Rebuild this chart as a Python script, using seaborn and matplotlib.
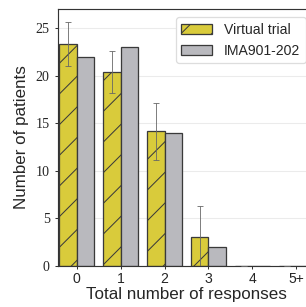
import numpy as np
import pandas as pd
import seaborn as sns
import matplotlib.pyplot as plt

categories = ["0", "1", "2", "3", "4", "5+"]
virtual_trial = [23.4, 20.4, 14.2, 3.0, 0.0, 0.0]
virtual_err = [2.3, 2.2, 3.0, 3.3, 0.0, 0.0]
ima901 = [22.0, 23.0, 14.0, 2.0, 0.0, 0.0]

df = pd.DataFrame({
    "responses": categories * 2,
    "patients": virtual_trial + ima901,
    "group": ["Virtual trial"] * len(categories) + ["IMA901-202"] * len(categories),
})

sns.set_style("whitegrid", {"grid.color": "#ebebeb", "axes.edgecolor": "#333333",
                            "xtick.bottom": True, "ytick.left": True})
plt.rcParams["font.family"] = ["Liberation Sans", "DejaVu Sans"]
plt.rcParams["hatch.linewidth"] = 0.8

dpi = 92
fig = plt.figure(figsize=(306 / dpi, 307 / dpi), dpi=dpi)
ax = fig.add_axes([58 / 306, 41 / 307, 257 / 306, 257 / 307])

palette = {"Virtual trial": "#d9cb3b", "IMA901-202": "#b9b9be"}
sns.barplot(data=df, x="responses", y="patients", hue="group", palette=palette,
            width=0.8, edgecolor="#3a3a3a", linewidth=1.0, saturation=1, ax=ax)

# hatch the virtual trial bars and put the error bars on their centres
n = len(categories)
vbars = ax.patches[:n]
for p in vbars:
    p.set_hatch("/")
xs = [p.get_x() + p.get_width() / 2 for p in vbars]
ax.errorbar(xs, virtual_trial, yerr=virtual_err, fmt="none", ecolor="#666666",
            elinewidth=0.65, capsize=2.2, capthick=0.65, zorder=5)

ax.set_xlim(-0.43, 5.43)
ax.set_ylim(0, 27.05)
ax.set_yticks([0, 5, 10, 15, 20, 25])
ax.set_xlabel("Total number of responses", fontsize=13.3, labelpad=1)
ax.set_ylabel("Number of patients", fontsize=13.3, labelpad=5)
ax.tick_params(axis="x", labelsize=11, length=2.5, pad=2, color="#333333")
ax.tick_params(axis="y", length=2.5, pad=4, color="#333333")
for lab in ax.get_yticklabels():
    lab.set_fontfamily("Liberation Serif")
    lab.set_fontsize(11)
for s in ax.spines.values():
    s.set_linewidth(0.9)

handles, labels = ax.get_legend_handles_labels()
leg = ax.legend(handles, labels, loc="upper right",
                bbox_to_anchor=(305.5 / 306, 1 - 17 / 307),
                bbox_transform=fig.transFigure, borderaxespad=0, fontsize=11,
                frameon=True, fancybox=True, edgecolor="#dddddd", framealpha=1,
                handlelength=2.2, handletextpad=0.8)
leg.legend_handles[0].set_hatch("/")

fig.savefig("out.png", dpi=dpi)
